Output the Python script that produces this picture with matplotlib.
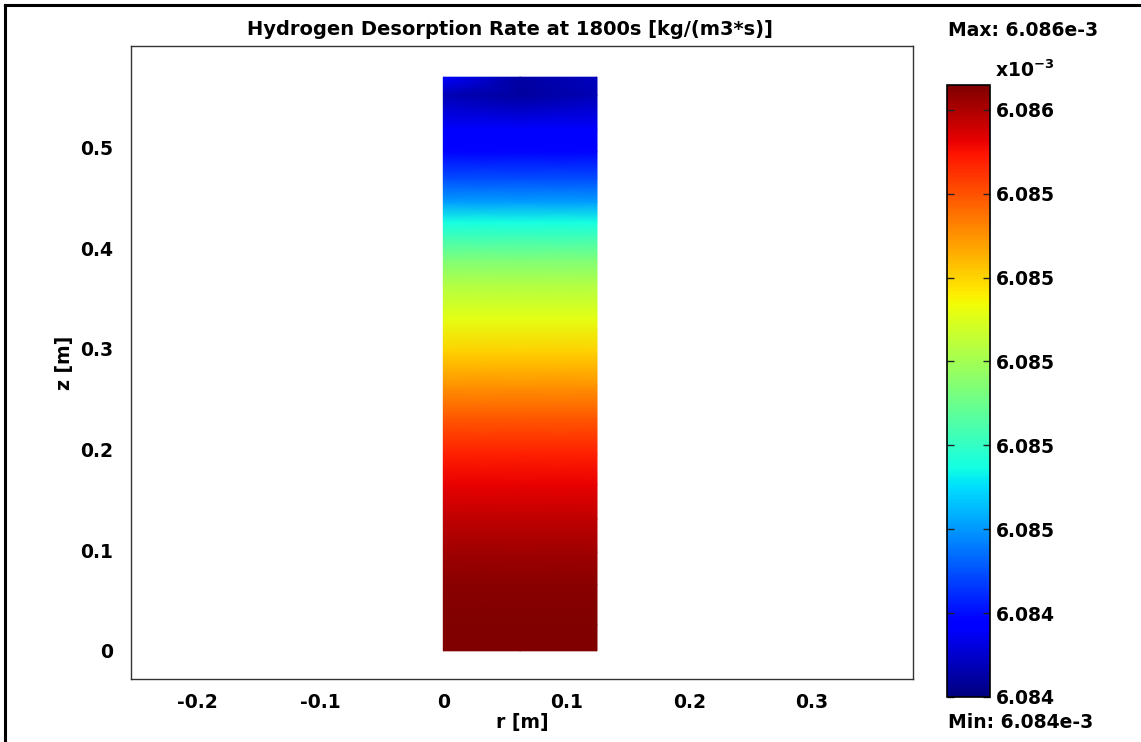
import numpy as np
import matplotlib
matplotlib.use("Agg")
import matplotlib.pyplot as plt
from matplotlib.lines import Line2D

plt.rcParams['font.family'] = ['DejaVu Sans']
plt.rcParams['font.weight'] = 'bold'
plt.rcParams['axes.unicode_minus'] = False
plt.rcParams['mathtext.fontset'] = 'custom'
plt.rcParams['mathtext.rm'] = 'DejaVu Sans:bold'
plt.rcParams['mathtext.default'] = 'rm'

# radial nodes of the domain [m]
r_nodes = [0.0, 0.0625, 0.125]
# axial nodes [m]
z_nodes = [0.000, 0.026, 0.066, 0.098, 0.131, 0.165, 0.195, 0.230, 0.264,
           0.297, 0.330, 0.366, 0.389, 0.413, 0.426, 0.446, 0.469, 0.496,
           0.518, 0.552, 0.570]
# desorption rate (x1e-3 kg/(m3*s)) at each axial node, columns = r_nodes
rate = [
    [6.085824, 6.085824, 6.085824],
    [6.085824, 6.085824, 6.085824],
    [6.085806, 6.085806, 6.085806],
    [6.085769, 6.085769, 6.085769],
    [6.085724, 6.085724, 6.085724],
    [6.085660, 6.085660, 6.085660],
    [6.085596, 6.085596, 6.085596],
    [6.085496, 6.085496, 6.085496],
    [6.085368, 6.085368, 6.085368],
    [6.085259, 6.085259, 6.085259],
    [6.085140, 6.085140, 6.085140],
    [6.085021, 6.085021, 6.085021],
    [6.084912, 6.084912, 6.084912],
    [6.084766, 6.084766, 6.084766],
    [6.084684, 6.084684, 6.084684],
    [6.084511, 6.084511, 6.084511],
    [6.084365, 6.084365, 6.084365],
    [6.084228, 6.084228, 6.084228],
    [6.084201, 6.084201, 6.084201],
    [6.084090, 6.084050, 6.084090],
    [6.084200, 6.084060, 6.084100],
]

rate_min = 6.084000
rate_max = 6.085824
cbar_ticks = [6.08400, 6.08425, 6.08450, 6.08475, 6.08500, 6.08525,
              6.08550, 6.08575]
cbar_labels = ['6.084', '6.084', '6.085', '6.085', '6.085', '6.085',
               '6.085', '6.086']

x_ticks = [-0.2, -0.1, 0, 0.1, 0.2, 0.3]
x_labels = ['-0.2', '-0.1', '0', '0.1', '0.2', '0.3']
y_ticks = [0, 0.1, 0.2, 0.3, 0.4, 0.5]
y_labels = ['0', '0.1', '0.2', '0.3', '0.4', '0.5']

FS = 13.5
W, H = 1141, 742

fig = plt.figure(figsize=(W / 100, H / 100), dpi=100)
ax = fig.add_axes([131 / W, 1 - 679 / H, 782 / W, 633 / H])

R, Z = np.meshgrid(r_nodes, z_nodes)
mesh = ax.pcolormesh(R, Z, np.array(rate), shading='gouraud', cmap='jet',
                     vmin=rate_min, vmax=rate_max)

ax.set_xlim(-0.254, 0.382)
ax.set_ylim(-0.028, 0.601)
ax.set_xticks(x_ticks)
ax.set_xticklabels(x_labels)
ax.set_yticks(y_ticks)
ax.set_yticklabels(y_labels)
ax.tick_params(length=0, labelsize=FS)
ax.tick_params(axis='y', pad=13)
ax.tick_params(axis='x', pad=10)
for s in ax.spines.values():
    s.set_color('#333333')
    s.set_linewidth(1.0)

ax.set_title('Hydrogen Desorption Rate at 1800s [kg/(m3*s)]', fontsize=14,
             fontweight='bold', pad=8)
ax.title.set_x((510 - 131) / 782)
ax.set_xlabel('r [m]', fontsize=FS, fontweight='bold', labelpad=1)
ax.set_ylabel('z [m]', fontsize=FS, fontweight='bold', labelpad=4)

# colorbar
cax = fig.add_axes([947 / W, 1 - 697 / H, 43 / W, 612 / H])
cb = fig.colorbar(mesh, cax=cax)
cb.set_ticks(cbar_ticks)
cb.set_ticklabels(cbar_labels)
cax.tick_params(direction='in', length=5, width=1, left=True, right=True,
                labelsize=FS, pad=4, color='#222222')
cb.outline.set_linewidth(1.2)

fig.text(995 / W, 1 - 70 / H, r'x10$^{-3}$', fontsize=FS, fontweight='bold',
         ha='left', va='center')
fig.text(948 / W, 1 - 30 / H, 'Max: 6.086e-3', fontsize=FS,
         fontweight='bold', ha='left', va='center')
fig.text(948 / W, 1 - 722 / H, 'Min: 6.084e-3', fontsize=FS,
         fontweight='bold', ha='left', va='center')

# frame of the screenshot (top and left edges)
fig.add_artist(Line2D([5 / W, 1], [1 - 5 / H, 1 - 5 / H], color='black', lw=2.2))
fig.add_artist(Line2D([5 / W, 5 / W], [0, 1 - 5 / H], color='black', lw=2.2))

fig.savefig('out.png', dpi=100)
